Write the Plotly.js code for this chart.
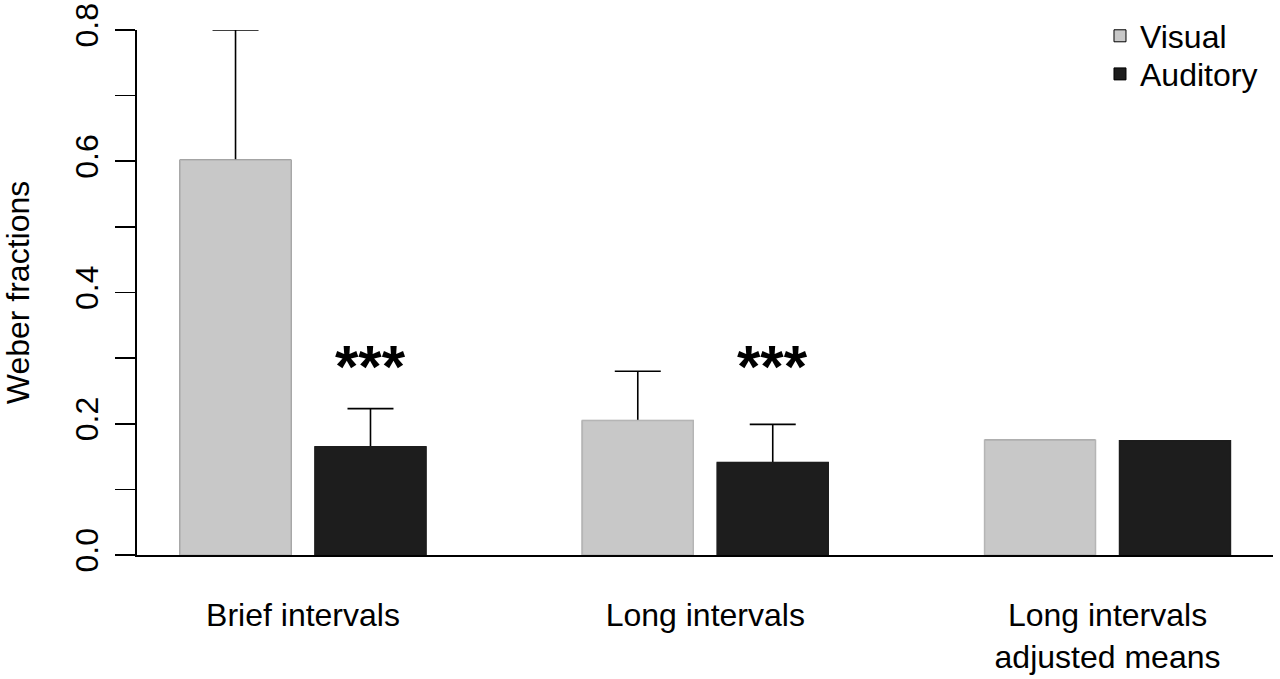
<!DOCTYPE html>
<html>
<head>
<meta charset="utf-8">
<script src="https://cdn.plot.ly/plotly-3.0.1.min.js"></script>
<style>
  html, body { margin: 0; padding: 0; background: #fff; }
  #graph { width: 1280px; height: 679px; }
</style>
</head>
<body>
<div id="graph"></div>
<script>
// conditions on the x axis
const categories = ['Brief intervals', 'Long intervals', 'Long intervals<br>adjusted means'];
// mean Weber fractions
const visualMeans = [0.602, 0.205, 0.175];
const auditoryMeans = [0.165, 0.141, 0.174];
// upper ends of the error bars (null = none drawn)
const visualUpper = [0.800, 0.280, null];
const auditoryUpper = [0.223, 0.199, null];
// significance marks above the auditory bars
const starCategories = ['Brief intervals', 'Long intervals'];
const starText = '***';
const yTickVals = [0, 0.1, 0.2, 0.3, 0.4, 0.5, 0.6, 0.7, 0.8];
const yTickText = ['0.0', '', '0.2', '', '0.4', '', '0.6', '', '0.8'];

const FONT = 'Liberation Sans, Arial, sans-serif';
const GREY = '#c8c8c8';
const DARK = '#1d1d1d';

// error bar going from 0 up to the upper end; the lower part is
// hidden afterwards by the same bars drawn again on an overlaid axis
function errPlus(means, upper) {
    return means.map((m, i) => upper[i] === null ? NaN : upper[i] - m);
}
function errMinus(means, upper) {
    return means.map((m, i) => upper[i] === null ? NaN : m);
}

function barTrace(name, means, upper, color, xaxis, withErr, legendId) {
    const t = {
        type: 'bar',
        name: name,
        x: categories,
        y: means,
        xaxis: xaxis,
        marker: {
            color: color,
            line: { color: withErr ? '#000' : (color === GREY ? '#b5b5b5' : DARK), width: withErr ? 1 : 1.5 }
        },
        showlegend: withErr,
        hoverinfo: 'skip'
    };
    if (legendId) t.legend = legendId;
    if (withErr) {
        t.error_y = {
            type: 'data',
            symmetric: false,
            array: errPlus(means, upper),
            arrayminus: errMinus(means, upper),
            color: '#000',
            thickness: 1.6,
            width: 23
        };
    }
    return t;
}

const traces = [
    barTrace('Visual', visualMeans, visualUpper, GREY, 'x', true, 'legend'),
    barTrace('Auditory', auditoryMeans, auditoryUpper, DARK, 'x', true, 'legend2'),
    barTrace('Visual', visualMeans, visualUpper, GREY, 'x2', false),
    barTrace('Auditory', auditoryMeans, auditoryUpper, DARK, 'x2', false)
];

const xRange = [-0.4127, 2.4114];

const annotations = starCategories.map(c => ({
    x: c, xref: 'x', xshift: 67,
    y: 0.287, yref: 'y', yanchor: 'middle',
    text: starText, showarrow: false,
    font: { family: FONT, size: 60, color: '#000', weight: 'bold' }
}));

const legendBase = {
    x: 0.8477, xanchor: 'left', yanchor: 'middle',
    bgcolor: 'rgba(0,0,0,0)',
    font: { family: FONT, size: 32, color: '#000' }
};

const layout = {
    width: 1280,
    height: 679,
    margin: { l: 137, r: 7, t: 30, b: 124, pad: 0 },
    paper_bgcolor: '#fff',
    plot_bgcolor: '#fff',
    font: { family: FONT, size: 32, color: '#000' },
    barmode: 'group',
    bargap: 0.329,
    bargroupgap: 0.178,
    showlegend: true,
    legend: Object.assign({}, legendBase, { y: 0.9886 }),
    legend2: Object.assign({}, legendBase, { y: 0.916 }),
    xaxis: {
        type: 'category',
        categoryorder: 'array',
        categoryarray: categories,
        range: xRange,
        showline: true, linecolor: '#000', linewidth: 1.6,
        ticks: '', showgrid: false, zeroline: false,
        ticklabelstandoff: 31,
        tickfont: { family: FONT, size: 32, color: '#000' },
        fixedrange: true
    },
    xaxis2: {
        type: 'category',
        categoryorder: 'array',
        categoryarray: categories,
        range: xRange,
        overlaying: 'x',
        visible: false,
        fixedrange: true
    },
    yaxis: {
        range: [0, 0.8],
        tickmode: 'array',
        tickvals: yTickVals,
        ticktext: yTickText,
        tickangle: -90,
        ticks: 'outside', ticklen: 20, tickwidth: 1.6, tickcolor: '#000',
        ticklabelstandoff: 5,
        showline: true, linecolor: '#000', linewidth: 1.6,
        showgrid: false, zeroline: false,
        tickfont: { family: FONT, size: 32, color: '#000' },
        title: { text: 'Weber fractions', font: { family: FONT, size: 32, color: '#000' }, standoff: 30 },
        fixedrange: true
    },
    annotations: annotations
};

Plotly.newPlot('graph', traces, layout, { displayModeBar: false, staticPlot: true });
</script>
</body>
</html>
